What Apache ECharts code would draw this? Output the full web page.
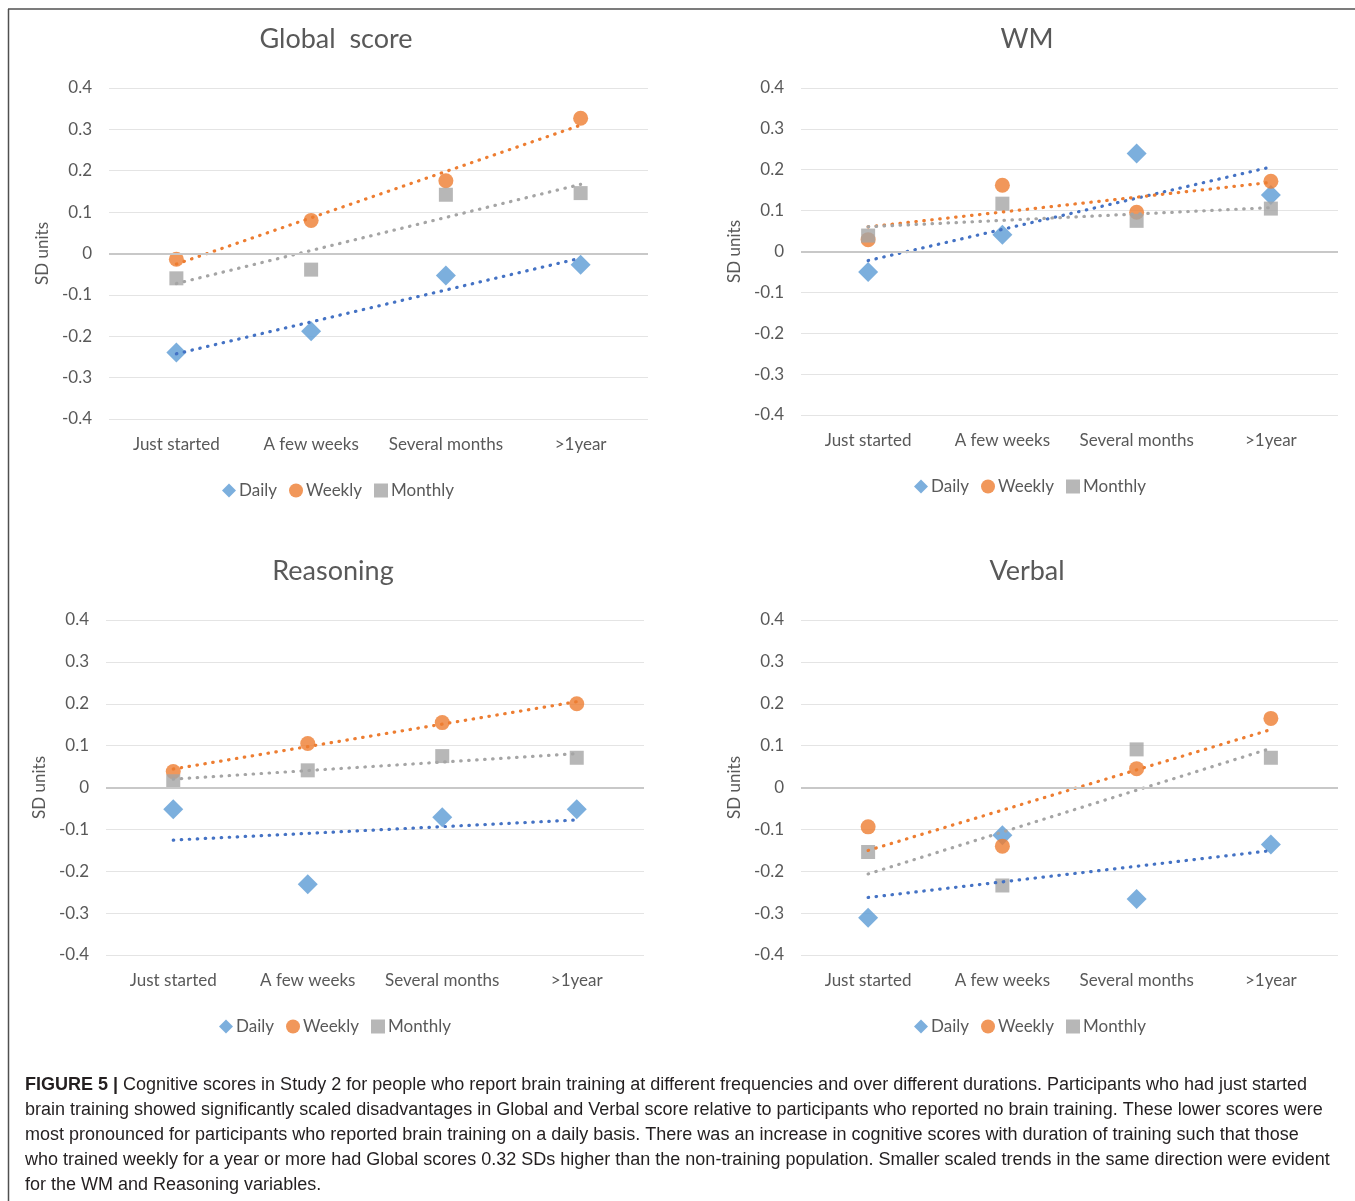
<!DOCTYPE html>
<html>
<head>
<meta charset="utf-8">
<script src="https://cdn.jsdelivr.net/npm/echarts@6/dist/echarts.min.js"></script>
<style>
html,body{margin:0;padding:0;background:#fff;}
#chart{width:1355px;height:1201px;}
</style>
</head>
<body>
<div id="chart"></div>
<script>
// ---- data ----
const categories = ['Just started', 'A few weeks', 'Several months', '>1year'];
const panelTitles = ['Global  score', 'WM', 'Reasoning', 'Verbal'];
const legendNames = ['Daily', 'Weekly', 'Monthly'];
const yTickMin = -0.4, yTickMax = 0.4, yTickStep = 0.1;
const yAxisName = 'SD units';

const globalDaily   = [-0.239, -0.188, -0.053, -0.027];
const globalWeekly  = [-0.014,  0.080,  0.176,  0.327];
const globalMonthly = [-0.060, -0.039,  0.142,  0.146];

const wmDaily   = [-0.050, 0.041, 0.240, 0.138];
const wmWeekly  = [ 0.029, 0.162, 0.096, 0.172];
const wmMonthly = [ 0.039, 0.117, 0.075, 0.105];

const reasDaily   = [-0.052, -0.231, -0.071, -0.052];
const reasWeekly  = [ 0.038,  0.105,  0.155,  0.200];
const reasMonthly = [ 0.015,  0.041,  0.075,  0.071];

const verbDaily   = [-0.311, -0.114, -0.266, -0.136];
const verbWeekly  = [-0.094, -0.140,  0.045,  0.165];
const verbMonthly = [-0.154, -0.234,  0.091,  0.071];

const captionBold = 'FIGURE 5 |';
const captionLines = [
  ' Cognitive scores in Study 2 for people who report brain training at different frequencies and over different durations. Participants who had just started',
  'brain training showed significantly scaled disadvantages in Global and Verbal score relative to participants who reported no brain training. These lower scores were',
  'most pronounced for participants who reported brain training on a daily basis. There was an increase in cognitive scores with duration of training such that those',
  'who trained weekly for a year or more had Global scores 0.32 SDs higher than the non-training population. Smaller scaled trends in the same direction were evident',
  'for the WM and Reasoning variables.'
];

// ---- styling / layout ----
const FONT = 'Lato';
const TXT = '#595959';
const markerColors = ['#5B9BD5', '#ED7D31', '#A5A5A5'];
const trendColors = ['#4472C4', '#ED7D31', '#A5A5A5'];
const symbols = ['diamond', 'circle', 'rect'];
const symbolSizes = [20, 15, 14];

const panels = [
  {data: [globalDaily, globalWeekly, globalMonthly], grid: {left: 109, top: 88, width: 539, height: 331}, title: [336, 39], legend: [217, 477]},
  {data: [wmDaily, wmWeekly, wmMonthly],             grid: {left: 801, top: 88, width: 537, height: 327}, title: [1027, 39], legend: [909, 473]},
  {data: [reasDaily, reasWeekly, reasMonthly],       grid: {left: 106, top: 620, width: 538, height: 335}, title: [333, 571], legend: [214, 1013]},
  {data: [verbDaily, verbWeekly, verbMonthly],       grid: {left: 801, top: 620, width: 537, height: 335}, title: [1027, 571], legend: [909, 1013]}
];

function linearFit(ys) {
  const n = ys.length;
  let sx = 0, sy = 0, sxx = 0, sxy = 0;
  ys.forEach((y, i) => { sx += i; sy += y; sxx += i * i; sxy += i * y; });
  const b = (n * sxy - sx * sy) / (n * sxx - sx * sx);
  const a = (sy - b * sx) / n;
  return ys.map((_, i) => a + b * i);
}

const grids = [], xAxes = [], yAxes = [], series = [], legends = [], graphics = [];

panels.forEach((p, pi) => {
  grids.push(p.grid);
  xAxes.push({
    gridIndex: pi, type: 'category', data: categories, boundaryGap: true,
    axisLine: {show: false}, axisTick: {show: false},
    axisLabel: {color: TXT, fontSize: 17, fontFamily: FONT, margin: 17, interval: 0}
  });
  yAxes.push({
    gridIndex: pi, type: 'value', min: yTickMin, max: yTickMax, interval: yTickStep,
    axisLine: {show: false}, axisTick: {show: false},
    axisLabel: {color: TXT, fontSize: 17, fontFamily: FONT, margin: 17,
      formatter: v => String(Math.round(v * 10) / 10)},
    splitLine: {show: true, lineStyle: {color: '#E4E4E4', width: 1.2}},
    name: yAxisName, nameLocation: 'middle', nameGap: 58, nameRotate: 90,
    nameTextStyle: {color: TXT, fontSize: 17, fontFamily: FONT}
  });
  p.data.forEach((vals, si) => {
    const s = {
      name: legendNames[si], type: 'scatter', xAxisIndex: pi, yAxisIndex: pi,
      data: vals, symbol: symbols[si], symbolSize: symbolSizes[si],
      itemStyle: {color: markerColors[si]}, z: 2
    };
    if (si === 0) {
      s.markLine = {
        silent: true, symbol: ['none', 'none'], label: {show: false},
        lineStyle: {color: '#C8C8C8', width: 2, type: 'solid'},
        data: [{yAxis: 0}], animation: false
      };
    }
    series.push(s);
    series.push({
      name: legendNames[si] + ' trend', type: 'line', xAxisIndex: pi, yAxisIndex: pi,
      data: linearFit(vals), showSymbol: false, symbol: 'none', silent: true,
      lineStyle: {color: trendColors[si], width: 3.2, type: [0.5, 7.5], cap: 'round'},
      z: 3
    });
  });
  legends.push({
    left: p.legend[0], top: p.legend[1], orient: 'horizontal',
    itemWidth: 14, itemHeight: 14, itemGap: 12,
    textStyle: {color: TXT, fontSize: 17, fontFamily: FONT, padding: [4, 0, 0, -2]},
    data: legendNames.map((n, i) => ({name: n, icon: symbols[i]})),
    selectedMode: false
  });
  graphics.push({
    type: 'text', x: p.title[0], y: p.title[1],
    style: {text: panelTitles[pi], fill: TXT, font: '27px ' + FONT, textAlign: 'center', textVerticalAlign: 'middle'}
  });
});

// frame
graphics.push({type: 'line', shape: {x1: 8, y1: 9, x2: 1355, y2: 9}, style: {stroke: '#505050', lineWidth: 1.5}});
graphics.push({type: 'line', shape: {x1: 8.5, y1: 9, x2: 8.5, y2: 1201}, style: {stroke: '#505050', lineWidth: 1.5}});

// caption
captionLines.forEach((line, i) => {
  const text = i === 0 ? '{b|' + captionBold + '}' + line : line;
  graphics.push({
    type: 'text', x: 25, y: 1085 + 25 * i,
    style: {
      text: text, fill: '#231F20', font: '18px "Liberation Sans"',
      textVerticalAlign: 'middle',
      rich: {b: {fontWeight: 'bold', fontSize: 18, fontFamily: 'Liberation Sans', fill: '#231F20'}}
    }
  });
});

const chart = echarts.init(document.getElementById('chart'), null, {renderer: 'canvas'});
chart.setOption({
  animation: false,
  backgroundColor: '#fff',
  grid: grids, xAxis: xAxes, yAxis: yAxes, series: series, legend: legends,
  graphic: graphics
});
</script>
</body>
</html>
